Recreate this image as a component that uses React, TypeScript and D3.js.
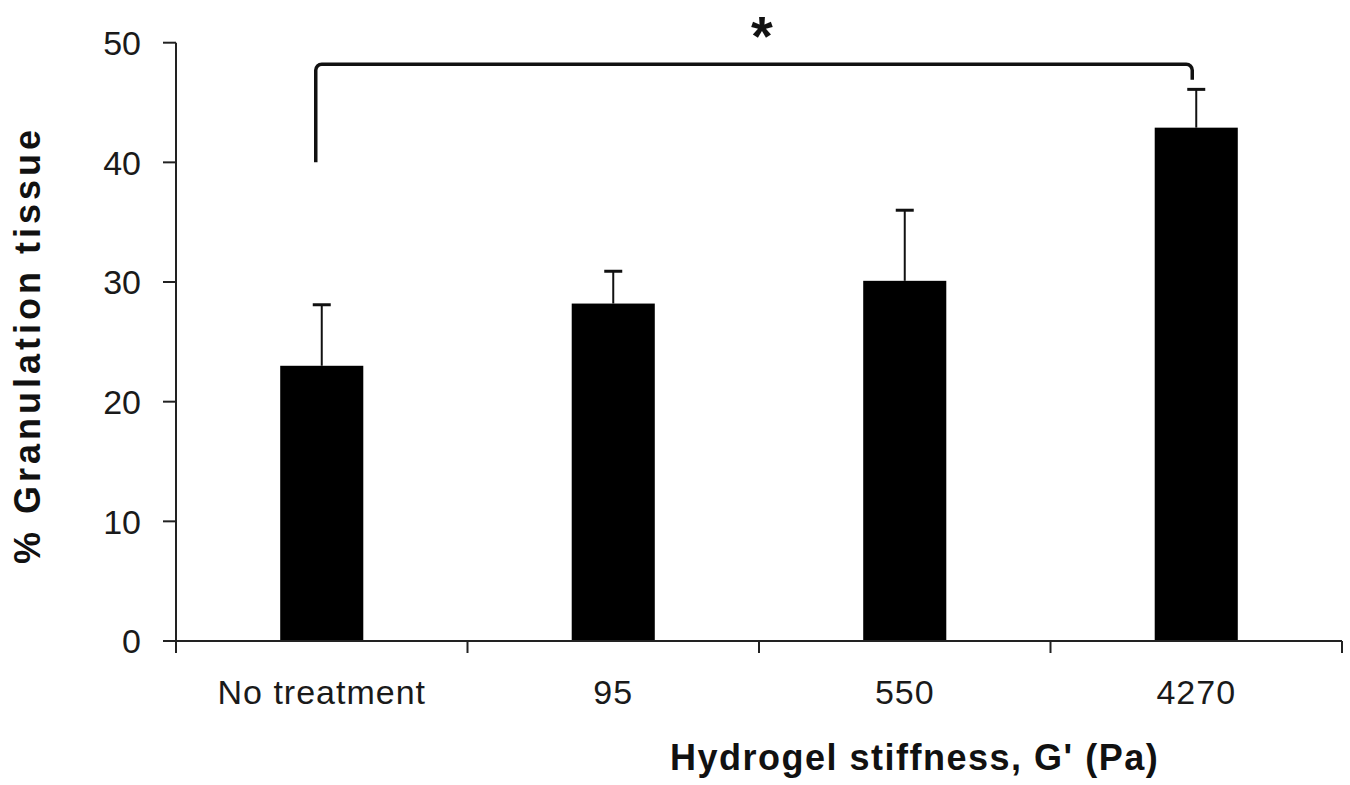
import React from 'react';
import * as d3 from 'd3';

// chart data
const categories = ['No treatment', '95', '550', '4270'];
const means = [23.0, 28.2, 30.1, 42.9];
const errors = [5.1, 2.7, 5.9, 3.2];
const yTicks = [0, 10, 20, 30, 40, 50];
// significance bracket: from group 0 to group 3
const bracketFrom = 0;
const bracketTo = 3;
const bracketLeftStart = 40;
const bracketTop = 48.2;
const bracketRightEnd = 46.9;
const sigLabel = '*';

const W = 1350;
const H = 785;
const FONT = '"Liberation Sans", Arial, sans-serif';

export default function App() {
  const y = d3.scaleLinear().domain([0, 50]).range([641, 42.7]);
  const x = d3
    .scaleBand<string>()
    .domain(categories)
    .range([176, 1342])
    .paddingInner(0.715)
    .paddingOuter(0.3575);

  const step = x.step();
  const x0 = x.range()[0];
  const boundaries = d3.range(categories.length + 1).map(i => x0 + i * step);
  const cx = (c: string) => (x(c) as number) + x.bandwidth() / 2;

  // bracket path with slightly rounded corners
  const r = 6;
  const lx = cx(categories[bracketFrom]) - 6;
  const rx = cx(categories[bracketTo]) - 4;
  const ty = y(bracketTop);
  const p = d3.path();
  p.moveTo(lx, y(bracketLeftStart));
  p.lineTo(lx, ty + r);
  p.arcTo(lx, ty, lx + r, ty, r);
  p.lineTo(rx - r, ty);
  p.arcTo(rx, ty, rx, ty + r, r);
  p.lineTo(rx, y(bracketRightEnd));

  return (
    <svg width={W} height={H} style={{ display: 'block', position: 'absolute', left: 0, top: 0, background: '#fff' }}>
      {/* bars */}
      {categories.map((c, i) => (
        <rect key={c} x={x(c)} y={y(means[i])} width={x.bandwidth()} height={y(0) - y(means[i])} fill="#000" />
      ))}
      {/* error bars */}
      {categories.map((c, i) => (
        <g key={'e' + c} stroke="#111">
          <line x1={cx(c)} x2={cx(c)} y1={y(means[i])} y2={y(means[i] + errors[i])} strokeWidth={2} />
          <line x1={cx(c) - 9} x2={cx(c) + 9} y1={y(means[i] + errors[i])} y2={y(means[i] + errors[i])} strokeWidth={3} />
        </g>
      ))}
      {/* y axis */}
      <g stroke="#222" strokeWidth={2}>
        <line x1={176} x2={176} y1={y(50)} y2={653} />
        {yTicks.map(t => (
          <line key={t} x1={163} x2={176} y1={y(t)} y2={y(t)} />
        ))}
      </g>
      {yTicks.map(t => (
        <text key={'l' + t} x={141} y={y(t)} dy="0.36em" textAnchor="end" fontFamily={FONT} fontSize={34} fill="#1a1a1a">
          {t}
        </text>
      ))}
      {/* x axis */}
      <g stroke="#222" strokeWidth={2}>
        <line x1={163} x2={boundaries[boundaries.length - 1]} y1={y(0)} y2={y(0)} />
        {boundaries.slice(1).map(b => (
          <line key={b} x1={b} x2={b} y1={y(0)} y2={653} />
        ))}
      </g>
      {categories.map(c => (
        <text key={'c' + c} x={cx(c)} y={704} textAnchor="middle" fontFamily={FONT} fontSize={34} letterSpacing={1} fill="#1a1a1a">
          {c}
        </text>
      ))}
      {/* significance */}
      <path d={p.toString()} fill="none" stroke="#111" strokeWidth={3.5} />
      <text x={762} y={55} textAnchor="middle" fontFamily={FONT} fontWeight="bold" fontSize={56} fill="#111">
        {sigLabel}
      </text>
      {/* axis titles */}
      <text x={670} y={770} textAnchor="start" fontFamily={FONT} fontWeight="bold" fontSize={36} letterSpacing={1.5} fill="#111">
        Hydrogel stiffness, G' (Pa)
      </text>
      <text
        transform="translate(40,345) rotate(-90)"
        textAnchor="middle"
        fontFamily={FONT}
        fontWeight="bold"
        fontSize={36}
        letterSpacing={4}
        fill="#111"
      >
        % Granulation tissue
      </text>
    </svg>
  );
}
